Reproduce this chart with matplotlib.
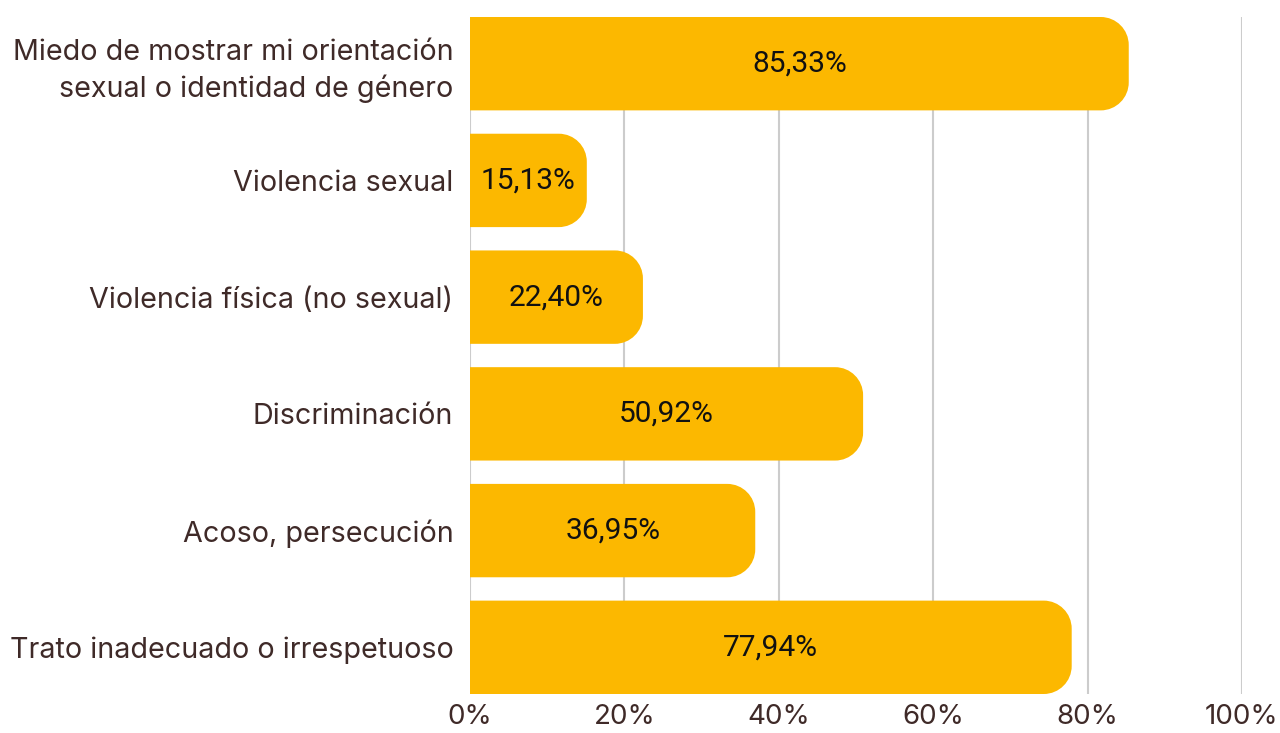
import matplotlib
matplotlib.use('Agg')
import matplotlib.pyplot as plt
from matplotlib.path import Path
from matplotlib.patches import PathPatch
import numpy as np

categorias = [
    'Miedo de mostrar mi orientación\nsexual o identidad de género',
    'Violencia sexual',
    'Violencia física (no sexual)',
    'Discriminación',
    'Acoso, persecución',
    'Trato inadecuado o irrespetuoso',
]
valores = [85.33, 15.13, 22.40, 50.92, 36.95, 77.94]
etiquetas = ['85,33%', '15,13%', '22,40%', '50,92%', '36,95%', '77,94%']
ticks = [0, 20, 40, 60, 80, 100]

amarillo = '#FCB800'
marron = '#3F2A28'

plt.rcParams['font.family'] = ['Inter', 'DejaVu Sans']

fig = plt.figure(figsize=(12.8, 7.33), dpi=100)
ax = fig.add_axes([470/1280, 1 - 694/733, 772/1280, 677/733])

y = np.arange(len(categorias))[::-1]
bars = ax.barh(y, valores, height=0.8, color=amarillo, zorder=2)

ax.set_xlim(0, 100)
ax.set_ylim(-0.4, len(categorias) - 0.6)

# redondear el extremo derecho de cada barra
px_x = 100 / 772.0
px_y = (len(categorias) - 0.2) / 677.0
r = 28
rx, ry = r * px_x, r * px_y
k = 0.5523
for b in bars:
    x0, y0 = b.get_x(), b.get_y()
    x1, y1 = x0 + b.get_width(), y0 + b.get_height()
    verts = [
        (x0, y0), (x1 - rx, y0),
        (x1 - rx + k * rx, y0), (x1, y0 + ry - k * ry), (x1, y0 + ry),
        (x1, y1 - ry),
        (x1, y1 - ry + k * ry), (x1 - rx + k * rx, y1), (x1 - rx, y1),
        (x0, y1), (x0, y0),
    ]
    codes = [Path.MOVETO, Path.LINETO,
             Path.CURVE4, Path.CURVE4, Path.CURVE4,
             Path.LINETO,
             Path.CURVE4, Path.CURVE4, Path.CURVE4,
             Path.LINETO, Path.CLOSEPOLY]
    ax.add_patch(PathPatch(Path(verts, codes), facecolor=amarillo,
                           edgecolor='none', zorder=3))
    b.set_visible(False)

for yi, v, t in zip(y, valores, etiquetas):
    ax.text(v / 2, yi, t, ha='center', va='center', fontsize=21.5,
            color='#111111', family=['Roboto', 'DejaVu Sans'], zorder=4)

ax.set_yticks(y)
ax.set_yticklabels(categorias, fontsize=20.7, color=marron, linespacing=1.4)
ax.set_xticks(ticks)
ax.set_xticklabels([f'{t}%' for t in ticks], fontsize=20, color=marron)
ax.tick_params(axis='both', length=0)
ax.tick_params(axis='y', pad=12)
ax.tick_params(axis='x', pad=7)

ax.grid(axis='x', color='#CCCCCC', linewidth=1.5, zorder=1)
for s in ax.spines.values():
    s.set_visible(False)

fig.savefig('out.png', dpi=100)
